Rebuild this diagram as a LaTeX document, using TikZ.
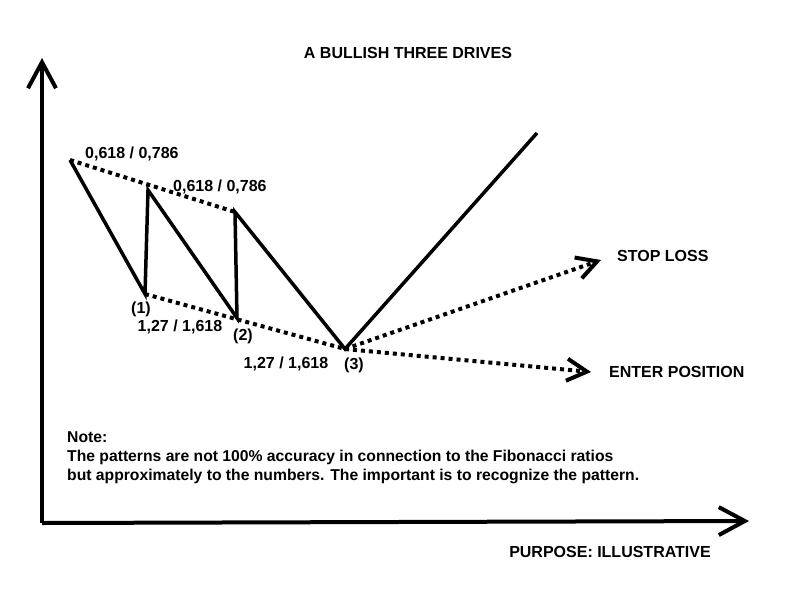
\documentclass[tikz,border=0pt]{standalone}
\usepackage{fontspec}
\setmainfont{Liberation Sans}
\usetikzlibrary{arrows.meta}

\begin{document}
\begin{tikzpicture}[x=1pt,y=-1pt,
  axis/.style={line width=4pt,-{Straight Barb[length=26pt,width=28pt]}},
  drive/.style={line width=3.5pt,line join=miter},
  fib/.style={line width=4pt,dash pattern=on 4pt off 4pt},
  target/.style={fib,-{Straight Barb[length=20pt,width=22pt,line width=4pt]}},
  lbl/.style={font=\fontsize{16}{18}\selectfont\bfseries,inner sep=0pt}]

\useasboundingbox (0,0) rectangle (800,600);

%points of the pattern
\coordinate (A) at (70,160);
\coordinate (D1) at (145,294);
\coordinate (B) at (148,190);
\coordinate (D2) at (237,318);
\coordinate (C) at (235,212);
\coordinate (D3) at (345,349);
\coordinate (E) at (537,133);
\coordinate (SL) at (601,260);
\coordinate (EP) at (591,372);
\coordinate (O) at (42,523);
\coordinate (Y) at (42,58);
\coordinate (X) at (749,521);

%axes:
\draw[axis] (O) -- (Y);
\draw[axis] (O) -- (X);

%three drives
\draw[drive] (A) -- (D1) -- (B) -- (D2) -- (C) -- (D3) -- (E);

%fibonacci lines
\draw[fib] (A) -- (C);
\draw[fib] (D1) -- (D3);
\draw[target] (D3) -- (SL);
\draw[target] (D3) -- (EP);

%labels
\node[lbl] (title) at (408,53) {A BULLISH THREE DRIVES};
\node[lbl,anchor=west] (r1) at (85,154) {0,618 / 0,786};
\node[lbl,anchor=west] (r2) at (173,187) {0,618 / 0,786};
\node[lbl] (n1) at (141,309) {(1)};
\node[lbl] (n2) at (243,336) {(2)};
\node[lbl] (n3) at (354,365) {(3)};
\node[lbl] (e1) at (180,327) {1,27 / 1,618};
\node[lbl] (e2) at (286,364) {1,27 / 1,618};
\node[lbl,anchor=west] (stop) at (617,256) {STOP LOSS};
\node[lbl,anchor=west] (enter) at (609,372) {ENTER POSITION};
\node[lbl] (purpose) at (610,552) {PURPOSE: ILLUSTRATIVE};

%note
\node[lbl,anchor=north west,align=left,font=\fontsize{15.7}{19}\selectfont\bfseries] (note) at (67,431)
  {Note:\\The patterns are not 100\% accuracy in connection to the Fibonacci ratios\\but approximately to the numbers. The important is to recognize the pattern.};

\end{tikzpicture}
\end{document}
